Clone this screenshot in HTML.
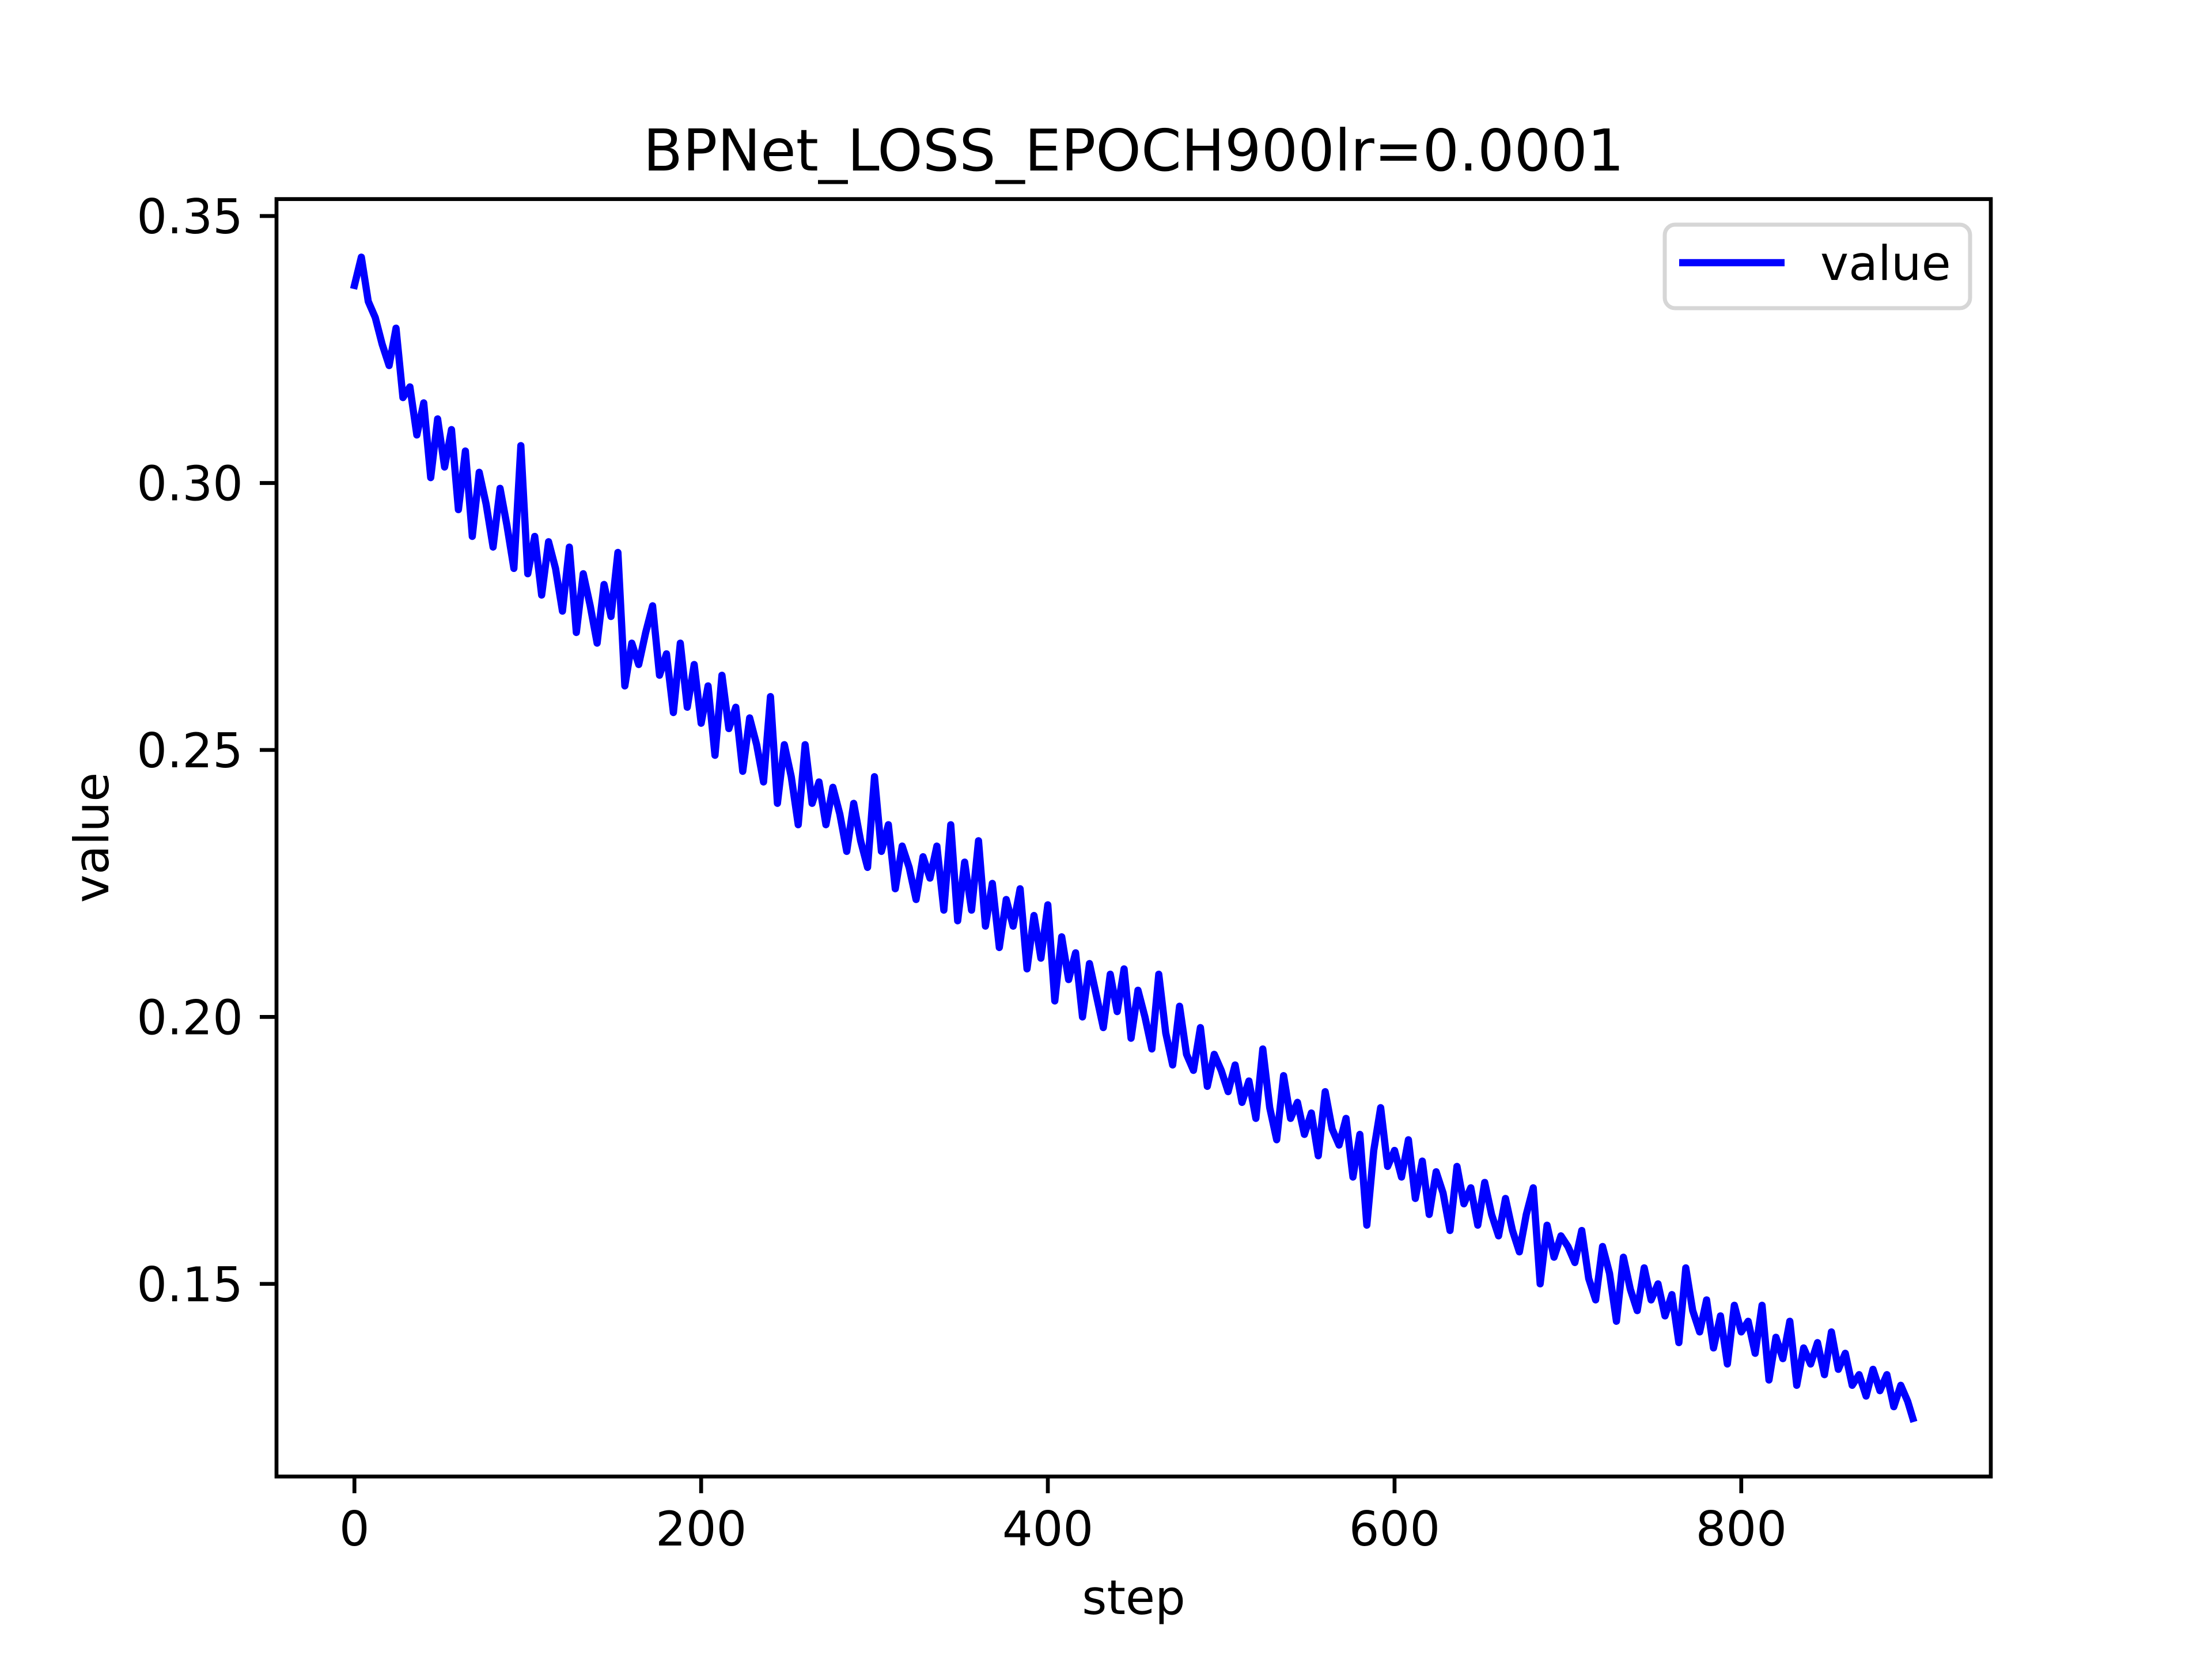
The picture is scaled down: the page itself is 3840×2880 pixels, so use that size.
<!DOCTYPE html>
<html><head><meta charset="utf-8"><style>
html,body{margin:0;padding:0;background:#fff;}
svg{display:block;font-family:"DejaVu Sans","Liberation Sans",sans-serif;}
</style></head><body>
<svg id="chart" width="3840" height="2880" viewBox="0 0 3840 2880" xmlns="http://www.w3.org/2000/svg">
<rect width="3840" height="2880" fill="#fff"/>
<text x="1968" y="296" font-size="100" text-anchor="middle">BPNet_LOSS_EPOCH900lr=0.0001</text>
<g id="plot"></g>
<rect x="480" y="345.6" width="2976" height="2217.6" fill="none" stroke="#000" stroke-width="6.7"/>
<g id="ticks"></g>
<text x="1968" y="2802" font-size="83" text-anchor="middle">step</text>
<text x="0" y="0" font-size="83" text-anchor="middle" transform="translate(188,1454) rotate(-90)">value</text>
<g>
<rect x="2890" y="390" width="530" height="145" rx="18" fill="#fff" fill-opacity="0.8" stroke="#d6d6d6" stroke-width="7"/>
<line x1="2915" y1="456" x2="3098" y2="456" stroke="#0000ff" stroke-width="12.5"/>
<text x="3160" y="486" font-size="83">value</text>
</g>
</svg>
<script>
const values = [
0.337,0.3423,0.334,0.331,0.326,0.322,0.329,0.316,0.318,0.309,0.315,0.301,0.312,
0.303,0.310,0.295,0.306,0.290,0.302,0.296,0.288,0.299,0.292,0.284,0.307,0.283,
0.290,0.279,0.289,0.284,0.276,0.288,0.272,0.283,0.277,0.270,0.281,0.275,
0.287,0.262,0.270,0.266,0.272,0.277,0.264,0.268,0.257,0.270,0.258,0.266,0.255,
0.262,0.249,0.264,0.254,0.258,0.246,0.256,0.251,0.244,0.260,0.240,0.251,
0.245,0.236,0.251,0.240,0.244,0.236,0.243,0.238,0.231,0.240,0.233,0.228,0.245,
0.231,0.236,0.224,0.232,0.228,0.222,0.230,0.226,0.232,0.220,0.236,0.218,
0.229,0.220,0.233,0.217,0.225,0.213,0.222,0.217,0.224,0.209,0.219,0.211,0.221,
0.203,0.215,0.207,0.212,0.200,0.210,0.204,0.198,0.208,0.201,0.209,0.196,
0.205,0.200,0.194,0.208,0.197,0.191,0.202,0.193,0.190,0.198,0.187,0.193,0.190,
0.186,0.191,0.184,0.188,0.181,0.194,0.183,0.177,0.189,0.181,0.184,0.178,
0.182,0.174,0.186,0.179,0.176,0.181,0.170,0.178,0.161,0.175,0.183,0.172,0.175,
0.170,0.177,0.166,0.173,0.163,0.171,0.167,0.160,0.172,0.165,0.168,0.161,
0.169,0.163,0.159,0.166,0.160,0.156,0.163,0.168,0.150,0.161,0.155,0.159,0.157,
0.154,0.160,0.151,0.147,0.157,0.152,0.143,0.155,0.149,0.145,0.153,0.147,
0.150,0.144,0.148,0.139,0.153,0.145,0.141,0.147,0.138,0.144,0.135,0.146,0.141,
0.143,0.137,0.146,0.132,0.140,0.136,0.143,0.131,0.138,0.135,0.139,0.133,
0.141,0.134,0.137,0.131,0.133,0.129,0.134,0.130,0.133,0.127,0.131,0.128,
0.1248];
const steps = values.map((v, i) => Math.min(i * 4, 899));
const xTicks = [0, 200, 400, 600, 800];
const yTicks = [0.15, 0.20, 0.25, 0.30, 0.35];
const yTickLabels = ["0.15", "0.20", "0.25", "0.30", "0.35"];

const NS = "http://www.w3.org/2000/svg";
const L = 480, R = 3456, T = 345.6, B = 2563.2;
const xMin0 = Math.min(...steps), xMax0 = Math.max(...steps);
const xPad = (xMax0 - xMin0) * 0.05;
const xMin = xMin0 - xPad, xMax = xMax0 + xPad;
const yMin0 = Math.min(...values), yMax0 = Math.max(...values);
const yPad = (yMax0 - yMin0) * 0.05;
const yMin = yMin0 - yPad, yMax = yMax0 + yPad;
function xs(v) { return L + (v - xMin) / (xMax - xMin) * (R - L); }
function ys(v) { return B - (v - yMin) / (yMax - yMin) * (B - T); }

const plot = document.getElementById('plot');
const path = document.createElementNS(NS, 'path');


let d = '';
values.forEach((v, i) => { d += (i ? 'L' : 'M') + xs(steps[i]).toFixed(1) + ' ' + ys(v).toFixed(1); });
path.setAttribute('d', d);
path.setAttribute('fill', 'none');
path.setAttribute('stroke', '#0000ff');
path.setAttribute('stroke-width', '12.5');
path.setAttribute('stroke-linejoin', 'round');
path.setAttribute('stroke-linecap', 'square');
plot.appendChild(path);

const tg = document.getElementById('ticks');
xTicks.forEach(t => {
  const x = xs(t);
  const ln = document.createElementNS(NS, 'line');
  
  
  ln.setAttribute('x1', x); ln.setAttribute('x2', x);
  ln.setAttribute('y1', B); ln.setAttribute('y2', B + 29);
  ln.setAttribute('stroke', '#000'); ln.setAttribute('stroke-width', '6.7');
  tg.appendChild(ln);
  const tx = document.createElementNS(NS, 'text');
  
  
  tx.setAttribute('x', x); tx.setAttribute('y', B + 120);
  tx.setAttribute('font-size', '83'); tx.setAttribute('text-anchor', 'middle');
  tx.textContent = String(t);
  tg.appendChild(tx);
});
yTicks.forEach((t, i) => {
  const y = ys(t);
  const ln = document.createElementNS(NS, 'line');
  
  
  ln.setAttribute('x1', L - 29); ln.setAttribute('x2', L);
  ln.setAttribute('y1', y); ln.setAttribute('y2', y);
  ln.setAttribute('stroke', '#000'); ln.setAttribute('stroke-width', '6.7');
  tg.appendChild(ln);
  const tx = document.createElementNS(NS, 'text');
  
  
  tx.setAttribute('x', L - 58); tx.setAttribute('y', y + 30);
  tx.setAttribute('font-size', '83'); tx.setAttribute('text-anchor', 'end');
  tx.textContent = yTickLabels[i];
  tg.appendChild(tx);
});
</script>
</body></html>
